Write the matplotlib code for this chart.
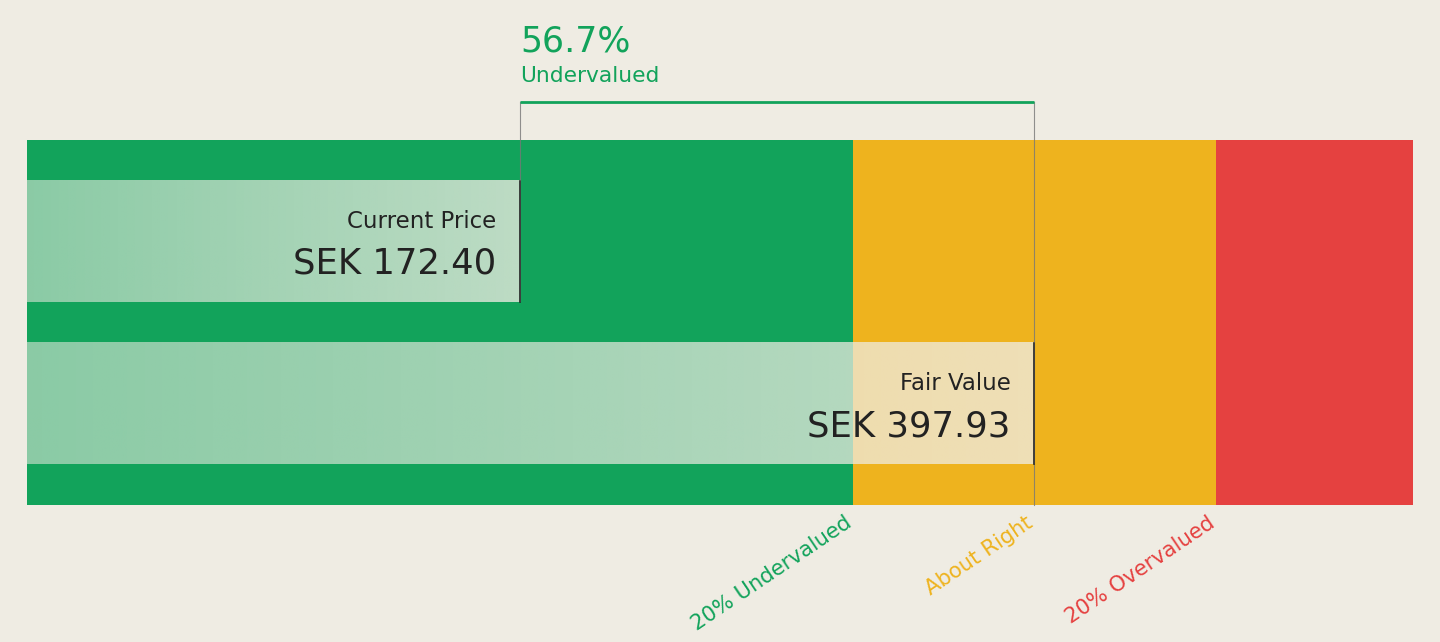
import matplotlib.pyplot as plt
import numpy as np
from matplotlib.colors import to_rgb

plt.rcParams['font.family'] = ['DejaVu Sans']

# values
currency = 'SEK'
current_price = 172.40
fair_value = 397.93
undervalued_pct = 56.7
zone_names = ['20% Undervalued', 'About Right', '20% Overvalued']
zone_bounds = [0.8 * fair_value, 1.2 * fair_value]
x_min, x_max = -44.0, 564.0

GREEN = '#12a35b'
YELLOW = '#eeb31e'
RED = '#e54140'
BG = '#efece3'
TEXT = '#222222'


def gradient_bar(ax, x0, x1, y0, y1):
    # background-coloured overlay getting more opaque towards the right
    n = 256
    rgba = np.ones((1, n, 4))
    rgba[0, :, :3] = to_rgb(BG)
    rgba[0, :, 3] = np.linspace(0.55, 0.78, n)
    ax.imshow(rgba, extent=(x0, x1, y0, y1), aspect='auto', interpolation='bilinear', zorder=3)
    ax.plot([x1, x1], [y0, y1], color=TEXT, lw=1.2, zorder=4)


fig = plt.figure(figsize=(14.4, 6.42), dpi=100, facecolor=BG)
ax = fig.add_axes([27 / 1440, 137 / 642, 1386 / 1440, 365 / 642])
ax.set_facecolor(BG)
ax.set_xlim(x_min, x_max)
ax.set_ylim(0, 1)
ax.axis('off')

# valuation zones
ax.axvspan(x_min, zone_bounds[0], color=GREEN, zorder=1, lw=0)
ax.axvspan(zone_bounds[0], zone_bounds[1], color=YELLOW, zorder=1, lw=0)
ax.axvspan(zone_bounds[1], x_max, color=RED, zorder=1, lw=0)

# price bars
cp_y0, cp_y1 = 0.556, 0.888
fv_y0, fv_y1 = 0.112, 0.444
gradient_bar(ax, x_min, current_price, cp_y0, cp_y1)
gradient_bar(ax, x_min, fair_value, fv_y0, fv_y1)

pad = (x_max - x_min) * 0.017
ax.text(current_price - pad, 0.759, 'Current Price', ha='right', va='baseline',
        fontsize=16.5, color=TEXT, zorder=5)
ax.text(current_price - pad, 0.633, f'{currency} {current_price:.2f}', ha='right', va='baseline',
        fontsize=25.5, color=TEXT, zorder=5)
ax.text(fair_value - pad, 0.315, 'Fair Value', ha='right', va='baseline',
        fontsize=16.5, color=TEXT, zorder=5)
ax.text(fair_value - pad, 0.189, f'{currency} {fair_value:.2f}', ha='right', va='baseline',
        fontsize=25.5, color=TEXT, zorder=5)

# bracket between current price and fair value
bracket_y = 1.104
ax.plot([current_price, current_price], [cp_y1, bracket_y], color='#777777', lw=0.8,
        alpha=0.8, zorder=2, clip_on=False)
ax.plot([fair_value, fair_value], [0, bracket_y], color='#777777', lw=0.8,
        alpha=0.8, zorder=2, clip_on=False)
ax.plot([current_price, fair_value], [bracket_y, bracket_y], color=GREEN, lw=2.0,
        solid_capstyle='butt', zorder=5, clip_on=False)
ax.text(current_price, 1.242, f'{undervalued_pct:.1f}%', ha='left', va='baseline',
        fontsize=25, color=GREEN, clip_on=False)
ax.text(current_price, 1.160, 'Undervalued', ha='left', va='baseline',
        fontsize=15.7, color=GREEN, clip_on=False)

# zone labels under the bar
label_x = [zone_bounds[0], fair_value, zone_bounds[1]]
label_c = [GREEN, YELLOW, RED]
for name, xv, c in zip(zone_names, label_x, label_c):
    ax.text(xv, -0.058, name, ha='right', va='baseline', rotation=34, rotation_mode='anchor',
            fontsize=15.2, color=c, clip_on=False)

fig.savefig('out.png', dpi=100, facecolor=BG)
